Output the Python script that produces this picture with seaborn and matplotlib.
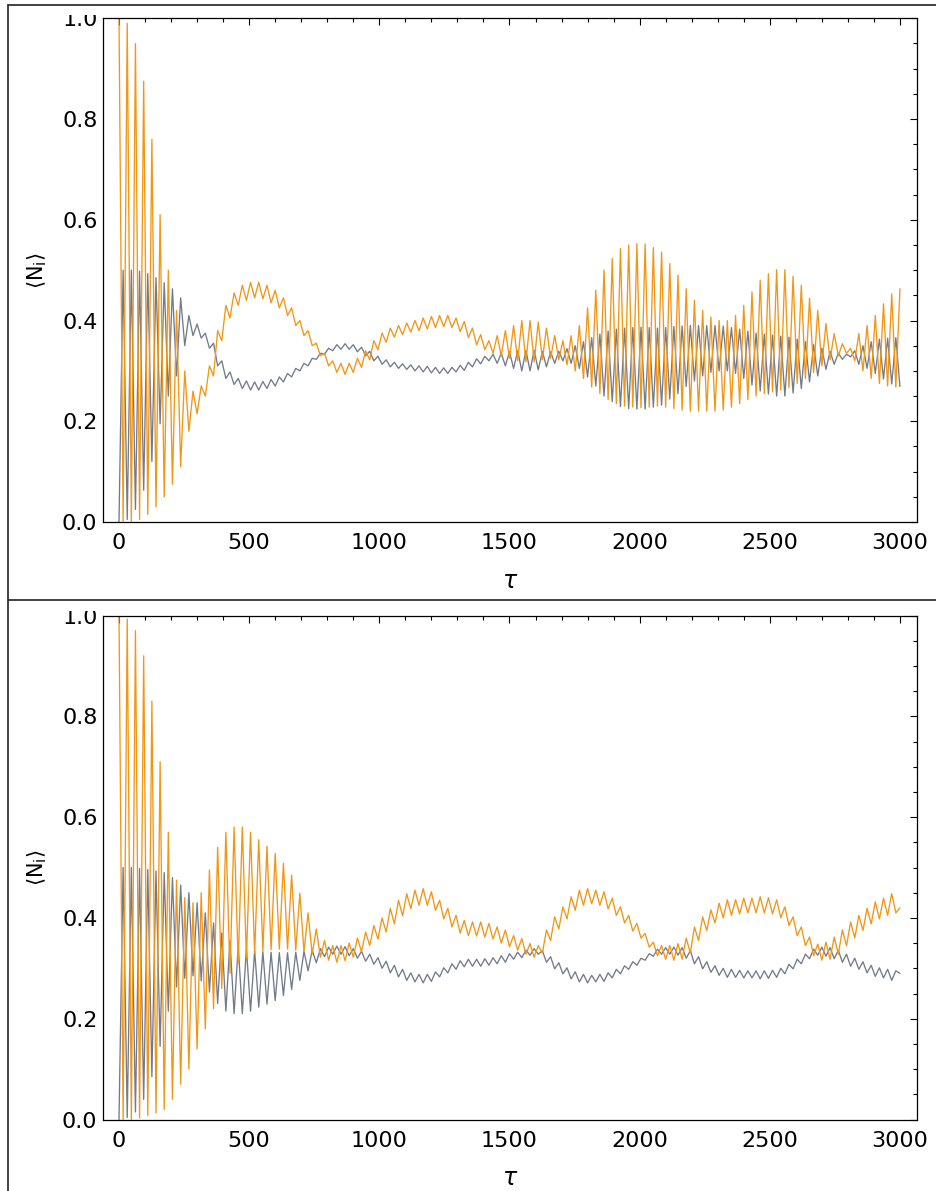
import numpy as np
import pandas as pd
import matplotlib
matplotlib.use("Agg")
import matplotlib.pyplot as plt
import seaborn as sns
from matplotlib.lines import Line2D
from matplotlib.patches import Rectangle
from matplotlib.ticker import MultipleLocator

# ---------------- data ----------------
# oscillation extrema: peaks of the orange curve at tau_peaks, troughs half a period later
tau_start, tau_end, n_peaks = 0, 3000, 96

# ---- top panel ----
top_orange_peaks = [1.0, 0.99, 0.95, 0.875, 0.76, 0.61, 0.50, 0.42, 0.30, 0.26,
                    0.27, 0.31, 0.38, 0.43, 0.455, 0.47, 0.476, 0.476, 0.47, 0.46,
                    0.445, 0.425, 0.40, 0.38, 0.355, 0.335, 0.32, 0.315, 0.315, 0.325,
                    0.34, 0.36, 0.375, 0.385, 0.39, 0.395, 0.40, 0.405, 0.408, 0.41,
                    0.41, 0.405, 0.398, 0.385, 0.372, 0.36, 0.37, 0.38, 0.39, 0.40,
                    0.40, 0.397, 0.385, 0.37, 0.36, 0.37, 0.39, 0.425, 0.46, 0.50,
                    0.523, 0.543, 0.55, 0.553, 0.552, 0.545, 0.536, 0.513, 0.49, 0.463,
                    0.44, 0.42, 0.407, 0.40, 0.40, 0.41, 0.43, 0.457, 0.48, 0.493,
                    0.501, 0.501, 0.488, 0.47, 0.444, 0.42, 0.394, 0.374, 0.354, 0.345,
                    0.374, 0.39, 0.41, 0.433, 0.453, 0.463]
top_orange_troughs = [0.0, 0.0, 0.005, 0.015, 0.03, 0.05, 0.075, 0.11, 0.18, 0.215,
                      0.25, 0.29, 0.36, 0.405, 0.43, 0.44, 0.445, 0.443, 0.435, 0.425,
                      0.41, 0.39, 0.37, 0.35, 0.33, 0.31, 0.297, 0.293, 0.297, 0.307,
                      0.322, 0.342, 0.357, 0.367, 0.372, 0.377, 0.38, 0.383, 0.386, 0.388,
                      0.386, 0.378, 0.366, 0.352, 0.342, 0.335, 0.33, 0.325, 0.32, 0.318,
                      0.318, 0.322, 0.325, 0.322, 0.312, 0.30, 0.285, 0.268, 0.255, 0.243,
                      0.235, 0.23, 0.228, 0.227, 0.228, 0.23, 0.228, 0.225, 0.222, 0.22,
                      0.22, 0.22, 0.22, 0.222, 0.228, 0.235, 0.243, 0.25, 0.255, 0.258,
                      0.262, 0.267, 0.275, 0.285, 0.297, 0.31, 0.322, 0.33, 0.335, 0.32,
                      0.30, 0.285, 0.275, 0.27, 0.268]
top_gray_troughs = [0.0, 0.005, 0.025, 0.063, 0.12, 0.195, 0.25, 0.29, 0.35, 0.37,
                    0.365, 0.345, 0.31, 0.285, 0.273, 0.265, 0.262, 0.262, 0.265, 0.27,
                    0.278, 0.288, 0.30, 0.31, 0.323, 0.333, 0.34, 0.343, 0.343, 0.338,
                    0.33, 0.32, 0.313, 0.308, 0.305, 0.303, 0.30, 0.298, 0.296, 0.295,
                    0.295, 0.298, 0.301, 0.308, 0.314, 0.32, 0.315, 0.31, 0.305, 0.30,
                    0.30, 0.302, 0.308, 0.315, 0.32, 0.315, 0.305, 0.288, 0.27, 0.25,
                    0.239, 0.229, 0.225, 0.224, 0.224, 0.228, 0.232, 0.244, 0.255, 0.269,
                    0.28, 0.29, 0.297, 0.30, 0.30, 0.295, 0.285, 0.272, 0.26, 0.254,
                    0.25, 0.25, 0.256, 0.265, 0.278, 0.29, 0.303, 0.313, 0.323, 0.328,
                    0.313, 0.305, 0.295, 0.284, 0.274, 0.269]
top_gray_peaks = [0.5, 0.5, 0.498, 0.493, 0.485, 0.475, 0.463, 0.445, 0.41, 0.393,
                  0.375, 0.355, 0.32, 0.298, 0.285, 0.28, 0.278, 0.279, 0.283, 0.288,
                  0.295, 0.305, 0.315, 0.325, 0.335, 0.345, 0.352, 0.354, 0.352, 0.347,
                  0.339, 0.329, 0.322, 0.317, 0.314, 0.312, 0.31, 0.309, 0.307, 0.306,
                  0.307, 0.311, 0.317, 0.324, 0.329, 0.333, 0.335, 0.338, 0.34, 0.341,
                  0.341, 0.339, 0.338, 0.339, 0.344, 0.35, 0.358, 0.366, 0.373, 0.379,
                  0.383, 0.385, 0.386, 0.387, 0.386, 0.385, 0.386, 0.388, 0.389, 0.39,
                  0.39, 0.39, 0.39, 0.389, 0.386, 0.383, 0.379, 0.375, 0.373, 0.371,
                  0.369, 0.367, 0.363, 0.358, 0.352, 0.345, 0.339, 0.335, 0.333, 0.34,
                  0.35, 0.358, 0.363, 0.365, 0.366]

# ---- bottom panel ----
bot_orange_peaks = [1.0, 0.993, 0.97, 0.92, 0.83, 0.71, 0.57, 0.475, 0.44, 0.43,
                    0.45, 0.495, 0.54, 0.57, 0.58, 0.58, 0.57, 0.555, 0.542, 0.528,
                    0.508, 0.485, 0.449, 0.41, 0.378, 0.355, 0.345, 0.345, 0.35, 0.36,
                    0.372, 0.385, 0.40, 0.419, 0.435, 0.448, 0.455, 0.458, 0.452, 0.435,
                    0.419, 0.405, 0.395, 0.392, 0.392, 0.389, 0.382, 0.376, 0.365, 0.359,
                    0.349, 0.345, 0.376, 0.402, 0.422, 0.442, 0.455, 0.458, 0.455, 0.452,
                    0.439, 0.422, 0.405, 0.389, 0.369, 0.352, 0.345, 0.345, 0.349, 0.36,
                    0.382, 0.402, 0.416, 0.429, 0.436, 0.436, 0.439, 0.439, 0.442, 0.44,
                    0.436, 0.422, 0.402, 0.382, 0.362, 0.348, 0.352, 0.362, 0.376, 0.392,
                    0.405, 0.419, 0.432, 0.439, 0.448, 0.42]
bot_orange_troughs = [0.0, 0.0, 0.003, 0.008, 0.013, 0.02, 0.04, 0.07, 0.10, 0.14,
                      0.18, 0.22, 0.26, 0.29, 0.31, 0.32, 0.33, 0.335, 0.337, 0.338,
                      0.338, 0.336, 0.333, 0.328, 0.322, 0.316, 0.312, 0.315, 0.322, 0.333,
                      0.345, 0.358, 0.372, 0.388, 0.404, 0.418, 0.425, 0.425, 0.415, 0.398,
                      0.382, 0.37, 0.365, 0.364, 0.362, 0.358, 0.35, 0.343, 0.336, 0.328,
                      0.322, 0.33, 0.355, 0.378, 0.398, 0.415, 0.425, 0.428, 0.425, 0.418,
                      0.405, 0.39, 0.374, 0.36, 0.342, 0.325, 0.318, 0.316, 0.318, 0.33,
                      0.355, 0.375, 0.39, 0.40, 0.405, 0.408, 0.41, 0.41, 0.41, 0.408,
                      0.40, 0.385, 0.365, 0.345, 0.325, 0.316, 0.318, 0.328, 0.345, 0.36,
                      0.375, 0.388, 0.398, 0.405, 0.41]
bot_gray_troughs = [0.0, 0.004, 0.015, 0.04, 0.085, 0.145, 0.215, 0.263, 0.28, 0.285,
                    0.275, 0.253, 0.23, 0.215, 0.21, 0.21, 0.215, 0.223, 0.229, 0.236,
                    0.246, 0.258, 0.276, 0.295, 0.311, 0.323, 0.328, 0.328, 0.325, 0.32,
                    0.314, 0.308, 0.30, 0.291, 0.283, 0.276, 0.273, 0.271, 0.274, 0.283,
                    0.291, 0.298, 0.303, 0.304, 0.304, 0.306, 0.309, 0.312, 0.318, 0.321,
                    0.326, 0.328, 0.312, 0.299, 0.289, 0.279, 0.273, 0.271, 0.273, 0.274,
                    0.281, 0.289, 0.298, 0.306, 0.316, 0.324, 0.328, 0.328, 0.326, 0.32,
                    0.309, 0.299, 0.292, 0.286, 0.282, 0.282, 0.281, 0.281, 0.279, 0.28,
                    0.282, 0.289, 0.299, 0.309, 0.319, 0.326, 0.324, 0.319, 0.312, 0.304,
                    0.298, 0.291, 0.284, 0.281, 0.276, 0.29]
bot_gray_peaks = [0.5, 0.5, 0.498, 0.496, 0.493, 0.49, 0.48, 0.465, 0.45, 0.43,
                  0.41, 0.39, 0.37, 0.355, 0.345, 0.34, 0.335, 0.333, 0.332, 0.331,
                  0.331, 0.332, 0.334, 0.336, 0.339, 0.342, 0.344, 0.343, 0.339, 0.334,
                  0.328, 0.321, 0.314, 0.306, 0.298, 0.291, 0.288, 0.288, 0.293, 0.301,
                  0.309, 0.315, 0.318, 0.318, 0.319, 0.321, 0.325, 0.329, 0.332, 0.336,
                  0.339, 0.335, 0.323, 0.311, 0.301, 0.293, 0.288, 0.286, 0.288, 0.291,
                  0.298, 0.305, 0.313, 0.32, 0.329, 0.338, 0.341, 0.342, 0.341, 0.335,
                  0.323, 0.313, 0.305, 0.30, 0.298, 0.296, 0.295, 0.295, 0.295, 0.296,
                  0.30, 0.308, 0.318, 0.328, 0.338, 0.342, 0.341, 0.336, 0.328, 0.32,
                  0.313, 0.306, 0.301, 0.298, 0.295]

x_major_ticks = [0, 500, 1000, 1500, 2000, 2500, 3000]
x_tick_labels = ["0", "500", "1000", "1500", "2000", "2500", "3000"]
y_major_ticks = [0.0, 0.2, 0.4, 0.6, 0.8, 1.0]
y_tick_labels = ["0.0", "0.2", "0.4", "0.6", "0.8", "1.0"]
x_label = r"$\tau$"
y_label = r"$\langle \mathrm{N_i} \rangle$"

ORANGE = "#F39515"
GRAY = "#737A8A"

# ---------------- helpers ----------------
tau_peaks = np.linspace(tau_start, tau_end, n_peaks)
half = (tau_peaks[1] - tau_peaks[0]) / 2.0
tau_troughs = tau_peaks[:-1] + half


def interleave(at_peaks, at_troughs):
    xs = np.empty(len(at_peaks) + len(at_troughs))
    ys = np.empty_like(xs)
    xs[0::2] = tau_peaks
    xs[1::2] = tau_troughs
    ys[0::2] = at_peaks
    ys[1::2] = at_troughs
    return xs, ys


sns.set_style("white")
plt.rcParams["font.family"] = ["DejaVu Sans"]
plt.rcParams["mathtext.fontset"] = "dejavusans"
plt.rcParams["text.color"] = "black"
plt.rcParams["axes.labelcolor"] = "black"
plt.rcParams["xtick.color"] = "black"
plt.rcParams["ytick.color"] = "black"

W, H = 936, 1191
fig = plt.figure(figsize=(W / 100, H / 100), dpi=100)
fig.patch.set_facecolor("white")


def px_rect(l, t, r, b):
    return [l / W, 1 - b / H, (r - l) / W, (b - t) / H]


panels = [
    (px_rect(103, 18.3, 917, 522), top_orange_peaks, top_orange_troughs,
     top_gray_troughs, top_gray_peaks),
    (px_rect(103, 615.5, 917, 1119.5), bot_orange_peaks, bot_orange_troughs,
     bot_gray_troughs, bot_gray_peaks),
]

for rect, o_pk, o_tr, g_tr, g_pk in panels:
    ax = fig.add_axes(rect)
    xo, yo = interleave(o_pk, o_tr)
    xg, yg = interleave(g_tr, g_pk)
    df = pd.concat([
        pd.DataFrame({"tau": xg, "N": yg, "site": "gray"}),
        pd.DataFrame({"tau": xo, "N": yo, "site": "orange"}),
    ], ignore_index=True)
    sns.lineplot(data=df, x="tau", y="N", hue="site",
                 palette={"gray": GRAY, "orange": ORANGE},
                 estimator=None, sort=False, linewidth=0.95, legend=False, ax=ax)
    ax.set_xlim(-61.5, 3065.5)
    ax.set_ylim(0, 1)
    ax.set_xticks(x_major_ticks)
    ax.set_xticklabels(x_tick_labels)
    ax.set_yticks(y_major_ticks)
    ax.set_yticklabels(y_tick_labels)
    ax.xaxis.set_minor_locator(MultipleLocator(100))
    ax.yaxis.set_minor_locator(MultipleLocator(0.05))
    ax.tick_params(which="both", direction="in", top=True, right=True,
                   color="black", labelcolor="black", width=0.8)
    ax.tick_params(which="major", length=5.0, labelsize=16)
    ax.tick_params(which="minor", length=3.0)
    ax.tick_params(axis="x", which="major", pad=8)
    ax.tick_params(axis="y", which="major", pad=4)
    for sp in ax.spines.values():
        sp.set_color("black")
        sp.set_linewidth(0.9)
    ax.set_xlabel(x_label, fontsize=17, color="black")
    ax.set_ylabel(y_label, fontsize=15, color="black")
    ax.xaxis.set_label_coords(0.5, -0.093)
    ax.yaxis.set_label_coords(-0.066, 0.5)

# clip the tops of the "1.0" labels like in the original panels
for top_px, bot_px in [(6, 14.5), (601, 611)]:
    fig.add_artist(Rectangle((9 / W, 1 - bot_px / H), 91 / W, (bot_px - top_px) / H,
                             transform=fig.transFigure, facecolor="white",
                             edgecolor="none", zorder=20))

# outer panel frames
frame_kw = dict(transform=fig.transFigure, color="#333333", linewidth=1.3, zorder=30)
fig.add_artist(Line2D([8 / W, 1.0], [1 - 5 / H, 1 - 5 / H], **frame_kw))
fig.add_artist(Line2D([8 / W, 1.0], [1 - 600 / H, 1 - 600 / H], **frame_kw))
fig.add_artist(Line2D([8 / W, 8 / W], [1 - 5 / H, 0.0], **frame_kw))

fig.savefig("out.png", dpi=100)
